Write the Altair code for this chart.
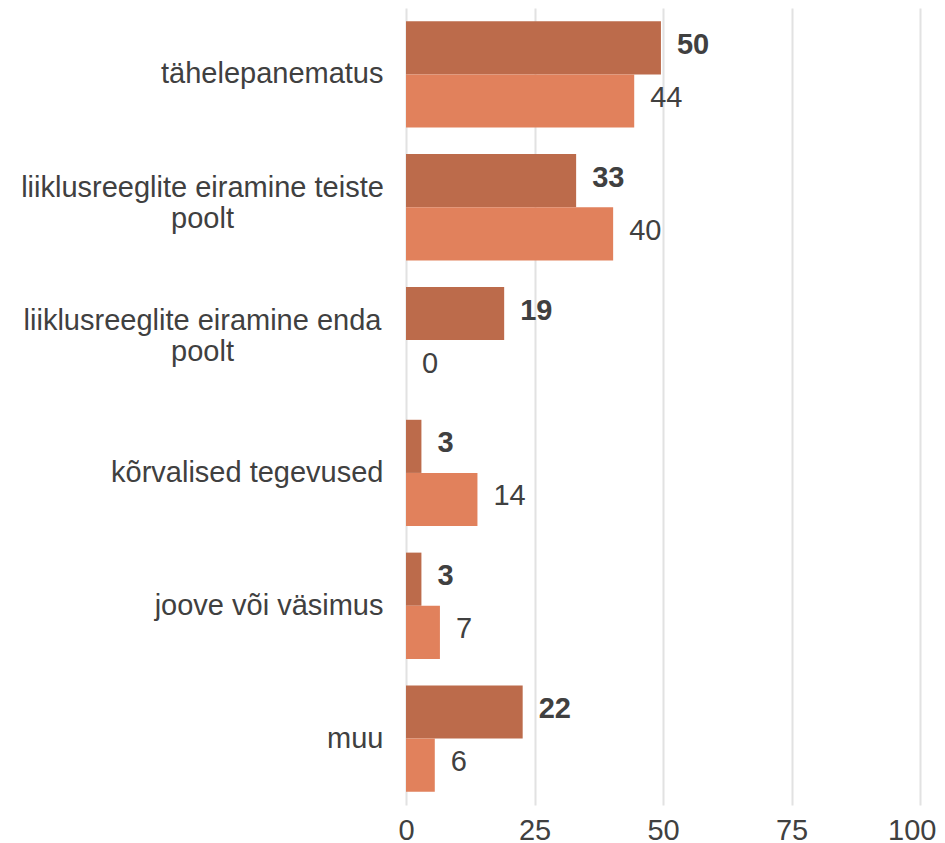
import altair as alt
import pandas as pd

categories = [
    "tähelepanematus",
    "liiklusreeglite eiramine teiste poolt",
    "liiklusreeglite eiramine enda poolt",
    "kõrvalised tegevused",
    "joove või väsimus",
    "muu",
]
series = ["rühm 1", "rühm 2"]
values_1 = [49.6, 33.1, 19.1, 3.0, 3.0, 22.7]
values_2 = [44.4, 40.3, 0.0, 13.9, 6.6, 5.6]
labels_1 = ["50", "33", "19", "3", "3", "22"]
labels_2 = ["44", "40", "0", "14", "7", "6"]
colors = ["#BC6B4B", "#E1815C"]
x_ticks = [0, 25, 50, 75, 100]

rows = []
for s, vals, labs in [(series[0], values_1, labels_1), (series[1], values_2, labels_2)]:
    for c, v, l in zip(categories, vals, labs):
        rows.append({"kat": c, "grupp": s, "vaartus": v, "silt": l})
df = pd.DataFrame(rows)

FONT = "Liberation Sans"
TXT = "#404040"
wrap_test = "indexof(datum.value, ' poolt') > 0"
last_test = "datum.value == 100"

y = alt.Y(
    "kat:N",
    sort=categories,
    title=None,
    scale=alt.Scale(paddingInner=0.2, paddingOuter=0.1),
    axis=alt.Axis(
        domain=False,
        ticks=False,
        grid=False,
        labelFont=FONT,
        labelFontSize=29,
        labelColor=TXT,
        labelLimit=0,
        labelLineHeight=31,
        labelBaseline="middle",
        labelExpr="indexof(datum.label, ' poolt') > 0 ? [replace(datum.label, ' poolt', ''), 'poolt'] : datum.label",
        labelAlign={"condition": {"test": wrap_test, "value": "center"}, "value": "right"},
        labelPadding={"condition": {"test": wrap_test, "value": 204}, "value": 23},
        labelOffset={"condition": {"test": wrap_test, "value": -19}, "value": 0},
    ),
)
x = alt.X(
    "vaartus:Q",
    title=None,
    scale=alt.Scale(domain=[0, 100], nice=False, zero=True),
    axis=alt.Axis(
        values=x_ticks,
        grid=True,
        gridColor="#e2e2e2",
        gridWidth=2,
        domain=False,
        ticks=False,
        labelFlush=False,
        labelFont=FONT,
        labelFontSize=29,
        labelColor=TXT,
        labelPadding=11,
        labelAlign={"condition": {"test": last_test, "value": "right"}, "value": "center"},
        labelOffset={"condition": {"test": last_test, "value": 16}, "value": 0},
    ),
)
yoff = alt.YOffset("grupp:N", sort=series, scale=alt.Scale(paddingInner=0, paddingOuter=0))

base = alt.Chart(df)
bars = base.mark_bar().encode(
    x=x,
    y=y,
    yOffset=yoff,
    color=alt.Color("grupp:N", scale=alt.Scale(domain=series, range=colors), legend=None),
)
txt1 = base.transform_filter(alt.datum.grupp == series[0]).mark_text(
    align="left", baseline="middle", dx=16, dy=-3, font=FONT, fontSize=29, fontWeight="bold", color=TXT
).encode(x=x, y=y, yOffset=yoff, text="silt:N")
txt2 = base.transform_filter(alt.datum.grupp == series[1]).mark_text(
    align="left", baseline="middle", dx=16, dy=-3, font=FONT, fontSize=29, color=TXT
).encode(x=x, y=y, yOffset=yoff, text="silt:N")

chart = (
    alt.layer(bars, txt1, txt2)
    .properties(
        width=514,
        height=797,
        autosize=alt.AutoSizeParams(type="none"),
        padding={"left": 398, "top": 0, "right": 17, "bottom": 44},
        background="white",
    )
    .configure_view(stroke=None)
)
chart.save("out.html", embed_options={"renderer": "svg", "actions": False})
